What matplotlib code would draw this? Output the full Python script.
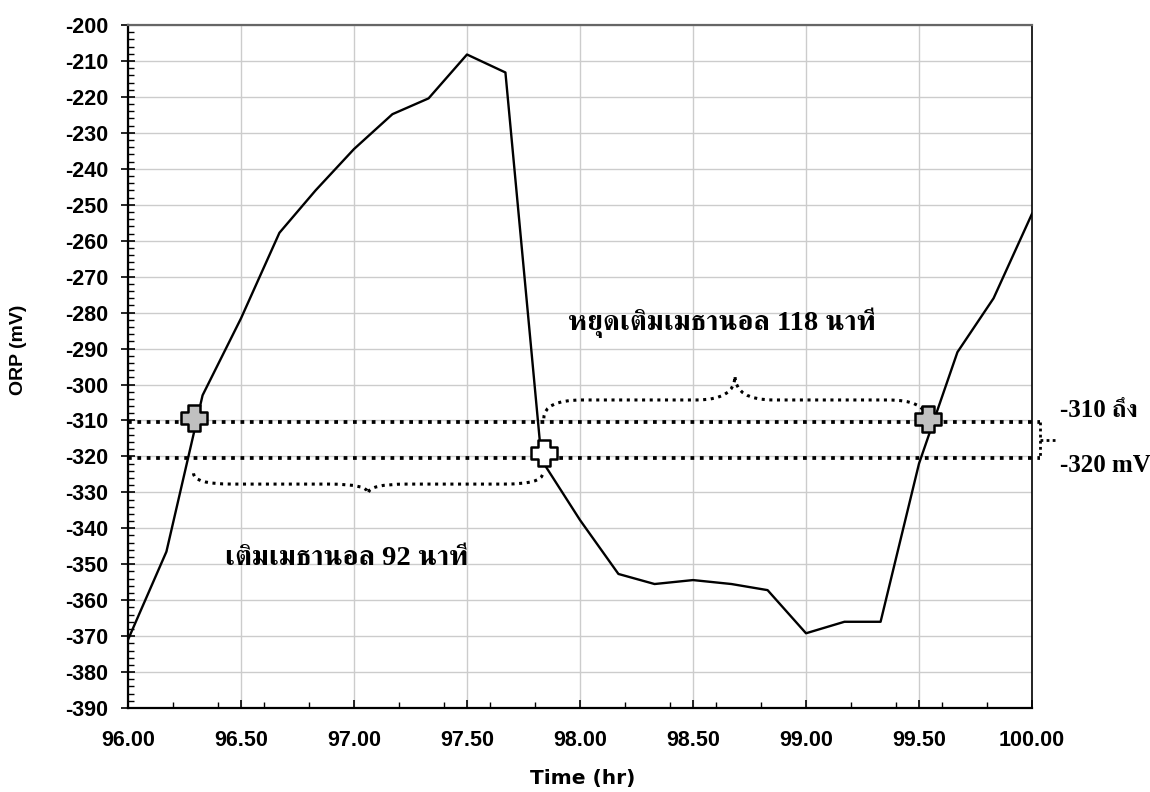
import numpy as np
import matplotlib
matplotlib.use("Agg")
import matplotlib.pyplot as plt
from matplotlib import font_manager, ft2font
from matplotlib.path import Path
from matplotlib.patches import PathPatch
from matplotlib.ticker import MultipleLocator, FormatStrFormatter

# ORP reading every 10 minutes
time_hr = [96.00, 96.17, 96.33, 96.50, 96.67, 96.83, 97.00, 97.17, 97.33,
           97.50, 97.67, 97.83, 98.00, 98.17, 98.33, 98.50, 98.67, 98.83,
           99.00, 99.17, 99.33, 99.50, 99.67, 99.83, 100.00]
orp_mv = [-371.0, -346.5, -303.0, -281.6, -257.8, -246.0, -234.5, -224.8,
          -220.4, -208.2, -213.2, -321.0, -337.7, -352.7, -355.5, -354.4,
          -355.5, -357.2, -369.2, -366.0, -366.0, -322.0, -291.0, -276.0,
          -252.5]

# control band
band_high = -310.5
band_low = -320.4

# points where methanol feed switched (x, y)
switch_x = [96.29, 97.84, 99.54]
switch_y = [-309.4, -319.1, -309.7]
switch_fill = ["#c0c0c0", "white", "#c0c0c0"]

label_stop = "หยุดเติมเมธานอล 118 นาที"
label_feed = "เติมเมธานอล 92 นาที"
label_band1 = "-310 ถึง"
label_band2 = "-320 mV"

plt.rcParams["axes.unicode_minus"] = False


def find_thai_font():
    best, best_score = None, -1
    for f in font_manager.fontManager.ttflist:
        try:
            cmap = ft2font.FT2Font(f.fname).get_charmap()
        except Exception:
            continue
        if 0x0E2B not in cmap:
            continue
        score = 0
        if f.weight in ("bold", 700) or (isinstance(f.weight, int) and f.weight >= 600):
            score += 2
        if "serif" in f.name.lower() and "sans" not in f.name.lower():
            score += 1
        if score > best_score:
            best, best_score = f.name, score
    return best


def brace(ax, x0, x1, xm, y_end, y_flat, y_tip, r):
    verts = [(x0, y_end), (x0, y_flat), (x0 + r, y_flat),
             (xm - r, y_flat),
             (xm, y_flat), (xm, y_tip),
             (xm, y_flat), (xm + r, y_flat),
             (x1 - r, y_flat),
             (x1, y_flat), (x1, y_end)]
    codes = [Path.MOVETO, Path.CURVE3, Path.CURVE3,
             Path.LINETO,
             Path.CURVE3, Path.CURVE3,
             Path.CURVE3, Path.CURVE3,
             Path.LINETO,
             Path.CURVE3, Path.CURVE3]
    p = PathPatch(Path(verts, codes), fill=False, edgecolor="black",
                  linewidth=2.2, linestyle=(0, (1, 1.5)), capstyle="butt",
                  zorder=4)
    ax.add_patch(p)


# fat plus marker
a = 0.5
b = 0.24
plus = Path([(-b, a), (b, a), (b, b), (a, b), (a, -b), (b, -b), (b, -a),
             (-b, -a), (-b, -b), (-a, -b), (-a, b), (-b, b), (-b, a)],
            closed=True)


def main():
    thai = find_thai_font()
    thai_family = ["Liberation Serif"] + ([thai] if thai else []) + ["DejaVu Sans"]

    fig = plt.figure(figsize=(11.5, 7.92), dpi=100)
    ax = fig.add_axes([0.1113, 0.106, 0.7861, 0.8624])

    ax.plot(time_hr, orp_mv, color="black", linewidth=1.7, zorder=3)

    # band lines, running a bit past the right edge
    xr = 100.035
    for yb in (band_high, band_low):
        ax.plot([96.0, xr], [yb, yb], color="black", linewidth=2.7,
                linestyle=(0, (1, 1.5)), dash_capstyle="butt", clip_on=False, zorder=4)
    ax.plot([xr, xr], [band_high, band_low], color="black", linewidth=2.0,
            linestyle=(0, (1, 1.2)), dash_capstyle="butt", clip_on=False)
    ym = (band_high + band_low) / 2
    ax.plot([xr, 100.11], [ym, ym], color="black", linewidth=2.0,
            linestyle=(0, (1, 1.2)), dash_capstyle="butt", clip_on=False)

    # braces
    brace(ax, switch_x[0], switch_x[1] - 0.005, 97.063, -324.7, -327.7, -330.3, 0.17)
    brace(ax, switch_x[1], switch_x[2] - 0.01, 98.686, -309.4, -304.3, -297.6, 0.17)

    for x, y, c in zip(switch_x, switch_y, switch_fill):
        ax.plot(x, y, marker=plus, markersize=19, markerfacecolor=c,
                markeredgecolor="black", markeredgewidth=1.8, zorder=5)

    ax.text(97.947, -284.8, label_stop, family=thai_family, fontsize=20.5,
            fontweight="bold", va="baseline", ha="left", zorder=6)
    ax.text(96.43, -350.2, label_feed, family=thai_family, fontsize=20.5,
            fontweight="bold", va="baseline", ha="left", zorder=6)
    ax.text(100.124, -309.0, label_band1, family=thai_family, fontsize=18,
            fontweight="bold", va="baseline", ha="left", clip_on=False)
    ax.text(100.124, -324.3, label_band2, family=thai_family, fontsize=18,
            fontweight="bold", va="baseline", ha="left", clip_on=False)

    ax.set_xlim(96, 100)
    ax.set_ylim(-390, -200)
    ax.xaxis.set_major_locator(MultipleLocator(0.5))
    ax.xaxis.set_minor_locator(MultipleLocator(0.2))
    ax.yaxis.set_major_locator(MultipleLocator(10))
    ax.yaxis.set_minor_locator(MultipleLocator(2))
    ax.xaxis.set_major_formatter(FormatStrFormatter("%.2f"))
    ax.grid(True, which="major", color="#cccccc", linewidth=1.0, zorder=0)
    ax.set_axisbelow(True)

    ax.tick_params(axis="x", which="major", direction="in", length=6, width=1.2, pad=16)
    ax.tick_params(axis="x", which="minor", direction="in", length=4, width=1.0)
    ax.tick_params(axis="y", which="major", direction="inout", length=10, width=1.2, pad=9)
    ax.tick_params(axis="y", which="minor", direction="in", length=4, width=1.0)
    for lab in ax.get_xticklabels():
        lab.set_fontfamily("Liberation Sans")
        lab.set_fontweight("bold")
        lab.set_fontsize(15.5)
    for lab in ax.get_yticklabels():
        lab.set_fontfamily("Liberation Sans")
        lab.set_fontweight("bold")
        lab.set_fontsize(15.5)

    ax.spines["left"].set_linewidth(1.6)
    ax.spines["bottom"].set_linewidth(1.6)
    ax.spines["right"].set_linewidth(1.2)
    ax.spines["top"].set_color("#666666")
    ax.spines["top"].set_linewidth(1.6)

    fig.text(0.507, 0.017, "Time (hr)", family="DejaVu Sans",
             fontweight="bold", fontsize=14.5, ha="center", va="center")
    fig.text(0.016, 0.558, "ORP (mV)", family="Liberation Sans",
             fontweight="bold", fontsize=14, rotation=90, ha="center", va="center")

    fig.savefig("out.png", dpi=100)


if __name__ == '__main__':
    main()
